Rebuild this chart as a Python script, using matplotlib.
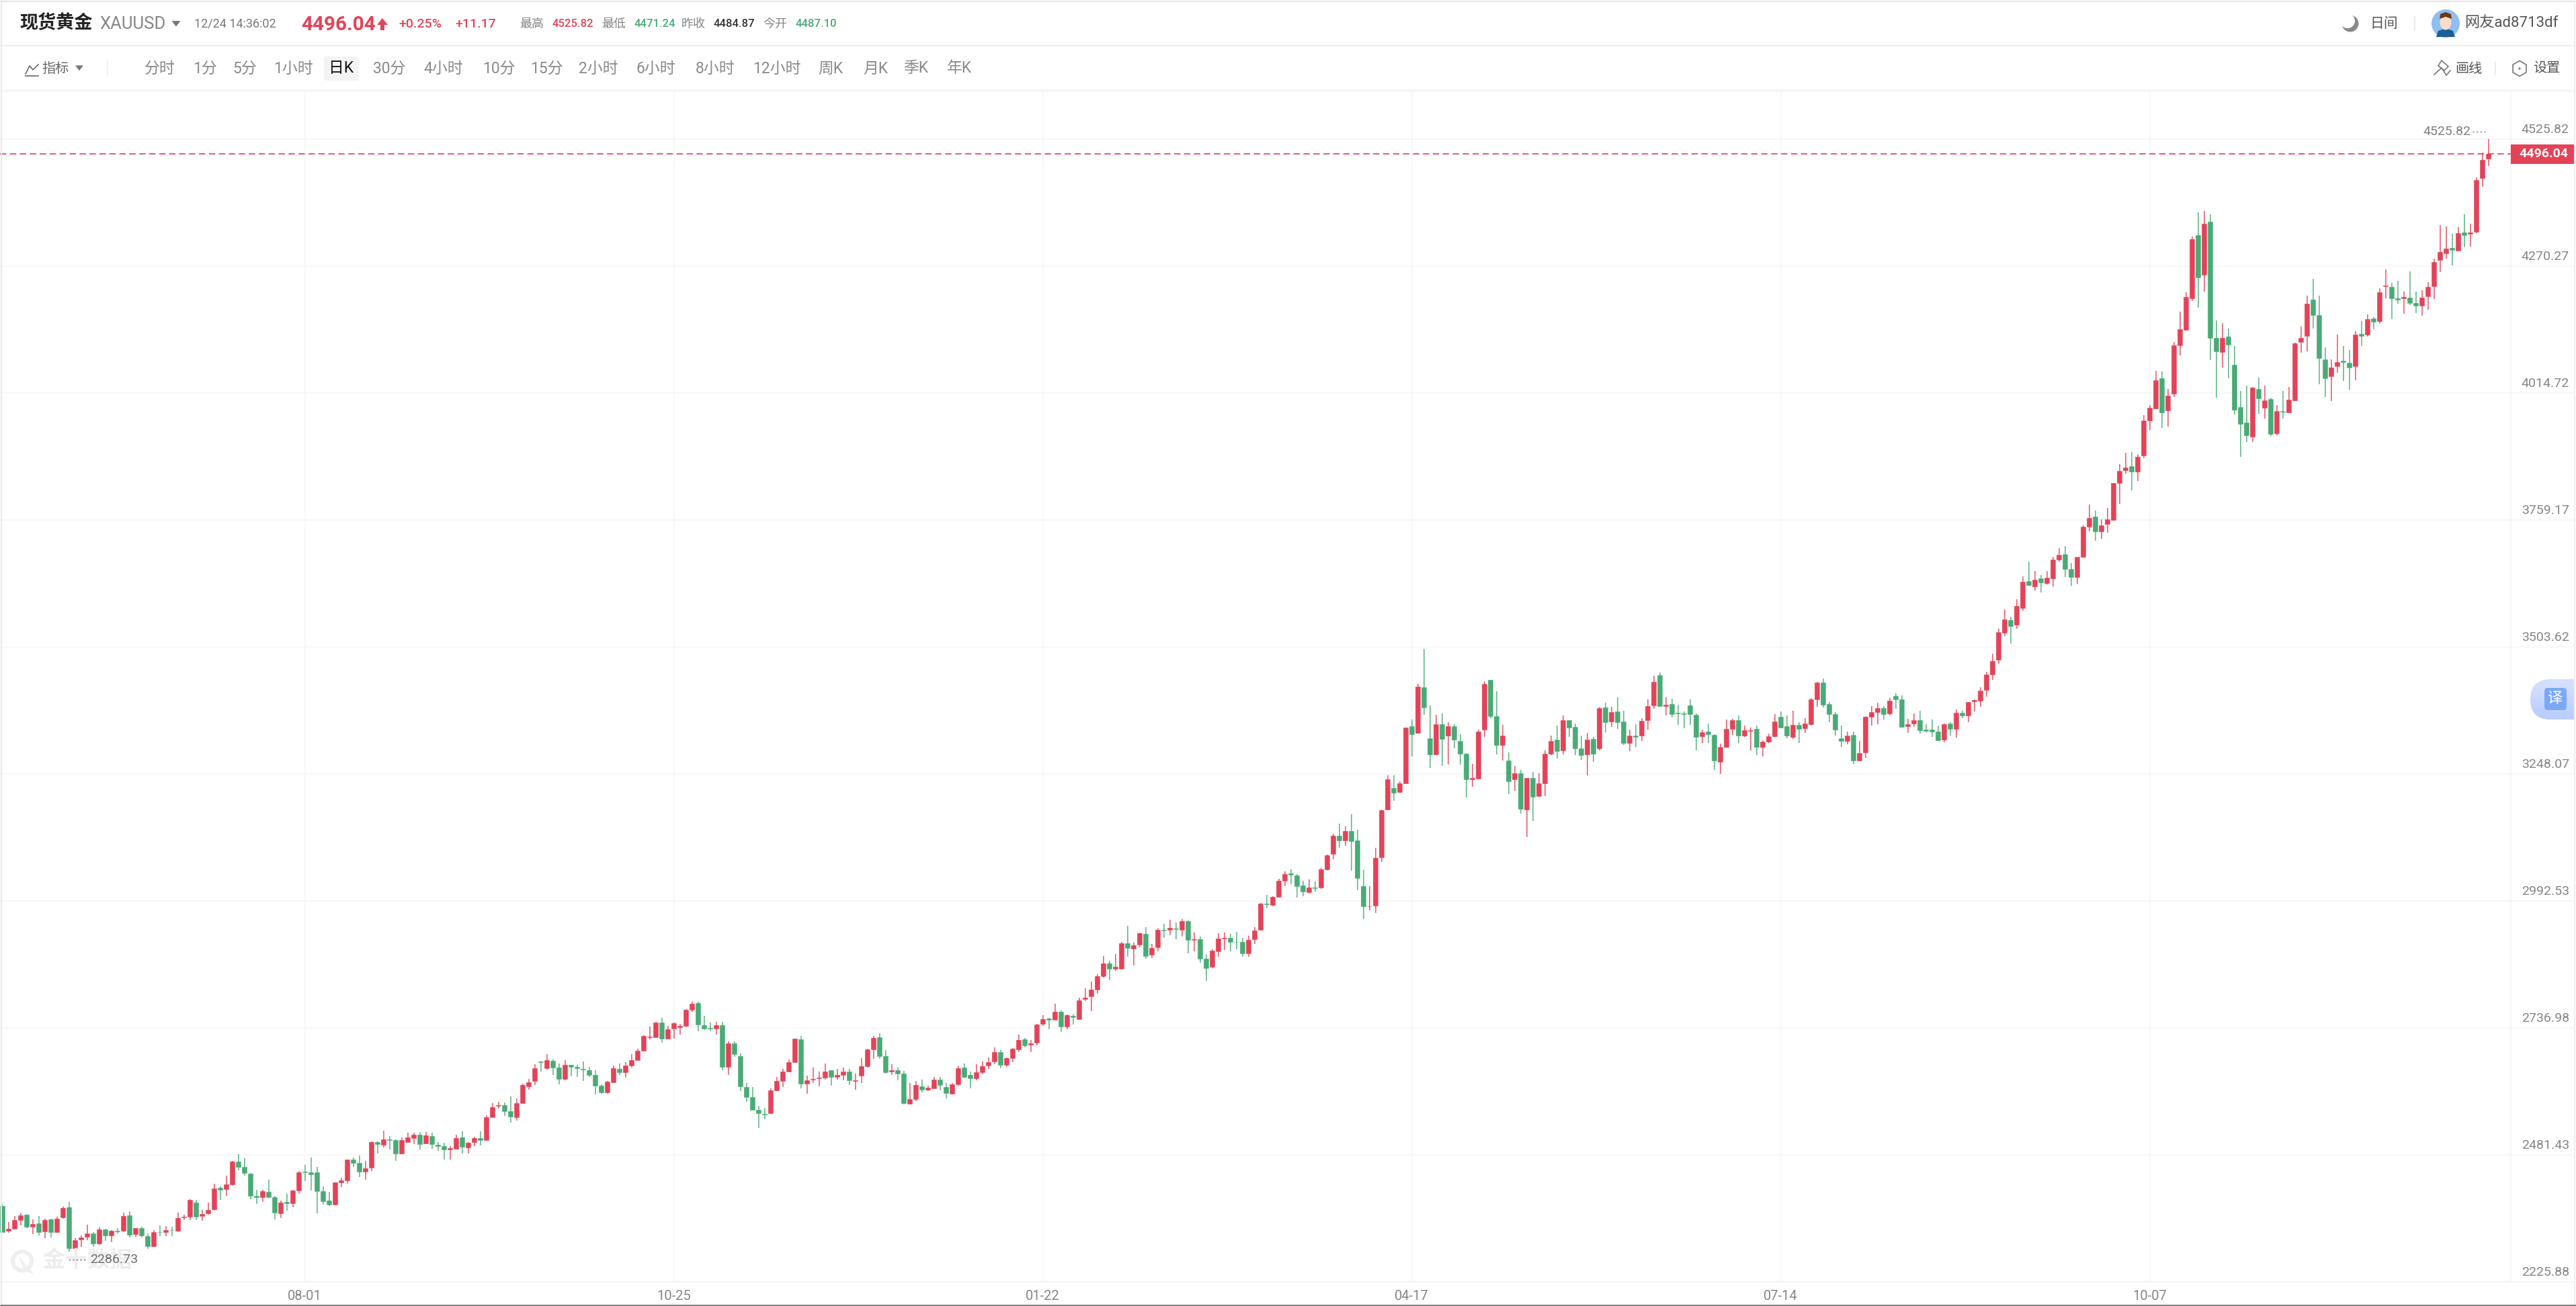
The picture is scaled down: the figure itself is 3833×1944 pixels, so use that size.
import numpy as np
import matplotlib
matplotlib.use("Agg")
import matplotlib.pyplot as plt
from matplotlib.patches import Circle, Ellipse, Polygon, Rectangle, RegularPolygon, FancyBboxPatch
from matplotlib.transforms import ScaledTranslation

plt.rcParams['font.family'] = ['Roboto', 'Noto Sans CJK SC', 'DejaVu Sans']

# CONFIG
W, H = 3833, 1944
RED = '#E34358'
GREEN = '#49AB76'
GRAY = '#858585'

# DATA (XAUUSD daily)
opens = [
    2379,2329,2333,2351,2361,2337,2344,2328,2352,2327,
    2356,2376,2294,2312,2317,2324,2304,2332,2319,2329,
    2329,2360,2322,2334,2318,2298,2327,2327,2331,2329,
    2356,2357,2386,2359,2364,2372,2415,2413,2422,2468,
    2458,2444,2400,2397,2408,2397,2364,2387,2384,2410,
    2448,2446,2447,2409,2390,2382,2427,2430,2472,2465,
    2448,2456,2508,2502,2513,2512,2484,2507,2516,2523,
    2505,2520,2502,2499,2493,2494,2517,2497,2507,2516,
    2512,2558,2580,2582,2569,2558,2586,2620,2630,2670,
    2656,2671,2658,2634,2663,2659,2655,2652,2642,2621,
    2607,2628,2655,2648,2662,2673,2692,2719,2719,2748,
    2715,2736,2739,2741,2774,2787,2743,2737,2736,2743,
    2659,2706,2681,2618,2598,2572,2564,2565,2612,2631,
    2649,2669,2714,2625,2633,2636,2637,2652,2639,2643,
    2649,2630,2641,2660,2694,2718,2681,2650,2652,2646,
    2585,2594,2620,2613,2616,2633,2619,2605,2624,2657,
    2643,2636,2648,2662,2670,2689,2663,2676,2694,2714,
    2703,2707,2745,2756,2754,2770,2740,2762,2755,2795,
    2801,2814,2841,2867,2856,2856,2908,2897,2905,2927,
    2884,2899,2935,2934,2938,2934,2952,2914,2916,2876,
    2860,2892,2917,2918,2911,2911,2888,2916,2934,2988,
    2985,3001,3034,3048,3044,3024,3011,3020,3020,3056,
    3088,3124,3114,3133,3114,3023,2982,2983,3081,3177,
    3220,3212,3230,3344,3331,3423,3320,3288,3349,3325,
    3344,3315,3289,3237,3239,3337,3438,3364,3307,3276,
    3237,3250,3177,3240,3204,3229,3289,3317,3296,3356,
    3343,3300,3287,3319,3299,3382,3354,3374,3354,3311,
    3326,3325,3357,3386,3447,3385,3389,3371,3370,3386,
    3367,3324,3333,3327,3272,3302,3339,3357,3326,3335,
    3339,3302,3313,3324,3363,3344,3322,3347,3340,3349,
    3398,3432,3389,3369,3320,3315,3327,3275,3291,3363,
    3372,3381,3370,3405,3399,3344,3350,3357,3337,3338,
    3334,3317,3350,3339,3371,3366,3394,3395,3417,3449,
    3478,3532,3558,3548,3582,3636,3625,3642,3632,3642,
    3679,3690,3660,3644,3685,3746,3766,3737,3751,3759,
    3833,3859,3868,3856,3889,3960,3984,4044,3980,4013,
    4111,4142,4206,4332,4253,4359,4126,4097,4129,4072,
    3987,3956,3927,4023,3985,4003,3934,3978,3976,4000,
    4117,4130,4203,4172,4082,4049,4069,4080,4075,4069,
    4134,4133,4165,4160,4230,4228,4206,4206,4207,4196,
    4191,4210,4230,4282,4296,4307,4301,4338,4335,4339,
    4448,4487.10,
]
closes = [
    2327,2333,2350,2360,2337,2342,2327,2350,2327,2354,
    2375,2294,2310,2316,2323,2304,2332,2319,2329,2328,
    2359,2321,2334,2319,2298,2327,2326,2331,2330,2355,
    2357,2391,2358,2363,2371,2414,2411,2422,2468,2458,
    2445,2400,2396,2409,2397,2365,2386,2384,2410,2447,
    2447,2442,2409,2389,2382,2426,2430,2472,2465,2448,
    2455,2507,2504,2513,2512,2484,2511,2517,2523,2504,
    2521,2504,2499,2493,2495,2516,2498,2506,2516,2512,
    2558,2578,2582,2569,2559,2586,2622,2628,2656,2668,
    2672,2657,2635,2663,2659,2656,2653,2642,2621,2607,
    2629,2656,2648,2662,2673,2692,2721,2720,2748,2715,
    2735,2747,2741,2774,2786,2744,2736,2736,2743,2659,
    2706,2684,2620,2598,2573,2565,2563,2611,2631,2649,
    2669,2715,2625,2632,2635,2637,2649,2639,2643,2649,
    2632,2632,2660,2694,2717,2681,2648,2652,2646,2586,
    2594,2622,2613,2617,2633,2622,2606,2624,2656,2639,
    2636,2648,2660,2669,2689,2663,2676,2695,2713,2702,
    2706,2744,2755,2754,2770,2740,2763,2759,2793,2798,
    2814,2841,2867,2856,2860,2908,2898,2903,2928,2882,
    2898,2934,2933,2939,2936,2952,2915,2916,2877,2858,
    2893,2917,2919,2911,2910,2888,2915,2933,2988,2986,
    3001,3034,3047,3045,3023,3012,3020,3019,3056,3085,
    3124,3114,3133,3113,3039,2982,2982,3079,3175,3238,
    3210,3229,3342,3328,3424,3382,3288,3349,3319,3344,
    3317,3289,3238,3240,3333,3430,3364,3306,3326,3234,
    3250,3178,3240,3202,3230,3289,3315,3294,3356,3342,
    3300,3286,3317,3289,3381,3353,3373,3353,3311,3325,
    3322,3355,3385,3433,3385,3388,3368,3370,3368,3369,
    3323,3332,3328,3275,3302,3339,3357,3325,3336,3336,
    3302,3313,3324,3354,3342,3326,3347,3339,3350,3398,
    3432,3388,3368,3337,3315,3326,3275,3290,3363,3373,
    3381,3369,3396,3398,3343,3348,3356,3336,3335,3334,
    3316,3348,3339,3371,3366,3393,3397,3416,3448,3476,
    3533,3559,3546,3586,3635,3628,3639,3633,3643,3679,
    3689,3660,3644,3685,3746,3763,3736,3749,3760,3833,
    3858,3865,3856,3886,3960,3985,4041,3976,4010,4111,
    4143,4208,4324,4247,4356,4126,4098,4126,4112,3981,
    3953,3929,4025,4004,4000,3932,3978,3977,4001,4115,
    4126,4194,4172,4085,4045,4066,4077,4077,4066,4133,
    4130,4163,4158,4217,4231,4205,4203,4208,4196,4190,
    4207,4228,4279,4299,4305,4303,4337,4332,4338,4443,
    4484,4496.04,
]
highs = [
    2383,2347,2359,2364,2362,2352,2359,2354,2353,2358,
    2378,2387,2314,2319,2341,2326,2336,2333,2331,2334,
    2365,2368,2335,2337,2323,2331,2340,2339,2337,2365,
    2362,2392,2391,2371,2386,2424,2418,2440,2470,2483,
    2475,2445,2412,2411,2432,2400,2390,2403,2412,2450,
    2462,2477,2458,2418,2407,2427,2436,2473,2476,2480,
    2469,2509,2509,2531,2519,2513,2517,2526,2526,2528,
    2528,2526,2508,2506,2500,2523,2529,2508,2518,2529,
    2561,2586,2589,2587,2600,2595,2625,2634,2664,2670,
    2685,2674,2665,2673,2663,2663,2670,2659,2652,2624,
    2631,2661,2666,2668,2685,2696,2722,2740,2749,2758,
    2742,2748,2745,2775,2790,2790,2761,2748,2749,2749,
    2710,2710,2686,2626,2618,2581,2576,2615,2639,2655,
    2674,2716,2721,2641,2657,2649,2665,2652,2655,2657,
    2655,2645,2677,2695,2721,2726,2693,2664,2658,2651,
    2626,2631,2633,2621,2638,2638,2627,2627,2660,2665,
    2649,2664,2670,2678,2698,2693,2678,2697,2724,2717,
    2713,2745,2763,2758,2786,2772,2764,2765,2798,2817,
    2830,2845,2882,2873,2886,2911,2943,2909,2929,2940,
    2906,2937,2947,2955,2950,2956,2953,2929,2921,2884,
    2895,2928,2929,2927,2930,2918,2922,2940,2989,3005,
    3002,3038,3052,3057,3047,3033,3036,3032,3059,3086,
    3128,3148,3143,3167,3136,3055,3023,3099,3176,3246,
    3246,3233,3342,3358,3430,3500,3386,3367,3370,3352,
    3349,3328,3290,3269,3338,3435,3438,3415,3347,3292,
    3265,3257,3240,3252,3250,3295,3325,3345,3366,3357,
    3350,3326,3331,3323,3382,3391,3384,3403,3375,3338,
    3348,3360,3399,3446,3452,3403,3400,3388,3374,3398,
    3370,3337,3350,3328,3309,3358,3359,3366,3345,3342,
    3345,3316,3329,3368,3374,3366,3376,3352,3361,3401,
    3434,3440,3393,3373,3345,3334,3334,3315,3364,3385,
    3391,3385,3401,3410,3406,3359,3370,3375,3349,3358,
    3345,3350,3352,3378,3376,3393,3399,3423,3454,3490,
    3540,3579,3564,3600,3646,3675,3657,3649,3656,3685,
    3703,3707,3673,3685,3749,3791,3778,3761,3784,3834,
    3872,3895,3896,3892,3970,3991,4059,4058,4023,4117,
    4179,4218,4330,4379,4381,4375,4161,4155,4145,4109,
    4019,4030,4027,4046,4030,4006,3990,4019,4027,4116,
    4149,4211,4245,4211,4107,4082,4132,4110,4101,4139,
    4159,4173,4168,4226,4264,4236,4241,4219,4259,4219,
    4221,4238,4285,4353,4350,4335,4349,4374,4356,4449,
    4499,4525.82,
]
lows = [
    2326,2325,2332,2340,2334,2322,2320,2314,2315,2325,
    2353,2287,2288,2297,2310,2296,2301,2309,2306,2323,
    2327,2316,2317,2315,2293,2296,2318,2318,2318,2327,
    2350,2350,2350,2349,2362,2370,2391,2400,2419,2451,
    2440,2393,2383,2387,2396,2352,2355,2369,2376,2404,
    2429,2410,2364,2382,2379,2381,2417,2423,2458,2437,
    2432,2450,2485,2497,2493,2470,2483,2506,2503,2493,
    2503,2494,2490,2472,2472,2493,2485,2485,2500,2501,
    2511,2557,2575,2560,2547,2551,2585,2613,2622,2649,
    2654,2643,2624,2632,2640,2639,2631,2638,2604,2605,
    2605,2627,2643,2637,2658,2672,2691,2714,2718,2708,
    2714,2716,2724,2739,2770,2730,2733,2730,2724,2652,
    2643,2679,2610,2589,2572,2536,2553,2564,2610,2618,
    2648,2667,2615,2605,2626,2620,2633,2621,2633,2632,
    2623,2613,2627,2658,2675,2675,2646,2643,2632,2583,
    2583,2590,2608,2610,2615,2611,2595,2603,2621,2636,
    2615,2632,2644,2655,2664,2656,2659,2669,2689,2698,
    2689,2702,2741,2735,2753,2729,2734,2744,2754,2791,
    2771,2806,2839,2833,2852,2855,2881,2863,2900,2876,
    2878,2892,2918,2924,2916,2921,2888,2891,2868,2832,
    2858,2881,2894,2891,2896,2880,2880,2906,2933,2978,
    2982,2999,3023,3026,2999,3002,3007,3012,3017,3054,
    3076,3100,3104,3054,3015,2956,2974,2969,3071,3176,
    3194,3210,3230,3284,3329,3367,3260,3287,3265,3267,
    3299,3267,3201,3222,3237,3323,3360,3288,3275,3208,
    3215,3168,3121,3154,3202,3204,3286,3280,3287,3323,
    3286,3277,3245,3272,3295,3332,3343,3339,3307,3294,
    3302,3315,3338,3380,3383,3366,3362,3347,3340,3347,
    3295,3311,3310,3256,3248,3301,3327,3311,3323,3296,
    3286,3283,3310,3322,3341,3320,3319,3310,3331,3345,
    3383,3382,3352,3325,3302,3308,3268,3274,3281,3345,
    3349,3358,3366,3379,3341,3331,3343,3330,3332,3323,
    3315,3312,3325,3321,3360,3352,3374,3384,3404,3437,
    3470,3526,3511,3540,3577,3627,3618,3613,3630,3626,
    3675,3645,3627,3631,3683,3736,3717,3722,3734,3758,
    3792,3853,3819,3838,3884,3940,3983,3945,3947,4007,
    4090,4140,4200,4186,4219,4081,4005,4066,4044,3971,
    3886,3916,3916,3973,3963,3928,3930,3964,3975,3999,
    4096,4098,4145,4032,4007,3998,4055,4039,4022,4040,
    4109,4129,4143,4154,4205,4164,4194,4175,4192,4176,
    4170,4182,4204,4258,4285,4271,4301,4308,4309,4337,
    4430,4471.24,
]
price_ticks = [4525.82, 4270.27, 4014.72, 3759.17, 3503.62, 3248.07, 2992.53, 2736.98, 2481.43, 2225.88]
date_pos = [50, 111, 172, 233, 294, 355]
date_labels = ['08-01', '10-25', '01-22', '04-17', '07-14', '10-07']
last_price = 4496.04
periods = ['分时', '1分', '5分', '1小时', '日K', '30分', '4小时', '10分', '15分', '2小时',
           '6小时', '8小时', '12小时', '周K', '月K', '季K', '年K']
period_x = [215, 287, 346, 407, 489, 555, 630, 718, 789, 861, 947, 1035, 1120, 1217, 1284, 1344, 1409]

opens = np.array(opens)
closes = np.array(closes)
highs = np.array(highs)
lows = np.array(lows)
idx = np.arange(len(opens))
cols = np.where(closes >= opens, RED, GREEN)

fig = plt.figure(figsize=(W / 100, H / 100), dpi=100, facecolor='white')

# ----------------------------
# CANDLE CHART
# ----------------------------
top_px, bot_px, right_px = 137, 1908.3, 3831
ax = fig.add_axes([0, (H - bot_px) / H, right_px / W, (bot_px - top_px) / H])
per_px = (price_ticks[0] - price_ticks[-1]) / (bot_px - 207)
ax.set_ylim(price_ticks[-1], price_ticks[0] + (207 - top_px) * per_px)
ax.set_xlim(-3.5 / 9, (right_px - 3.5) / 9)

for s in ['top', 'left', 'right']:
    ax.spines[s].set_visible(False)
ax.spines['bottom'].set_color('#F2F2F2')
ax.spines['bottom'].set_linewidth(1.1)

ax.set_axisbelow(True)
ax.grid(True, color='#F5F5F5', lw=1.1)
ax.set_yticks(price_ticks)
ax.set_yticklabels([f'{p:.2f}' for p in price_ticks])
ax.set_xticks(date_pos)
ax.set_xticklabels(date_labels)
ax.tick_params(axis='y', left=False, right=False, labelleft=False, labelright=True, pad=-9.4,
               labelsize=14, labelcolor=GRAY)
ax.tick_params(axis='x', bottom=False, pad=5, labelsize=14.5, labelcolor=GRAY)
for tick in ax.yaxis.get_major_ticks():
    tick.label2.set_ha('right')
    tick.label2.set_va('bottom')
    tick.label2.set_transform(tick.label2.get_transform() + ScaledTranslation(0, 5 / 100, fig.dpi_scale_trans))

# price scale separator
ax.axvline((3736 - 3.5) / 9, color='#F2F2F2', lw=1.1, zorder=1)

ax.vlines(idx, lows, highs, colors=cols, lw=1.25, alpha=0.8, zorder=3)
ax.bar(idx, np.abs(closes - opens), bottom=np.minimum(opens, closes), width=0.8, color=cols,
       edgecolor=cols, linewidth=0.4, zorder=4)
ax.axhline(last_price, color=RED, lw=1.3, alpha=0.95, dashes=(5.2, 3), zorder=2)

# ----------------------------
# SCREEN CHROME (pixel coordinates)
# ----------------------------
ui = fig.add_axes([0, 0, 1, 1], facecolor='none')
ui.set_xlim(0, W)
ui.set_ylim(H, 0)
ui.axis('off')


def label(x, y, s, size, color=GRAY, ha='left', weight='normal'):
    ui.text(x, y, s, fontsize=size, color=color, ha=ha, va='center', weight=weight)


def hline(y, color='#EBEBEB', lw=1.4):
    ui.plot([0, W], [y, y], color=color, lw=lw, solid_capstyle='butt')


def vline(x, y0, y1, color='#EBEBEB', lw=1.4):
    ui.plot([x, x], [y0, y1], color=color, lw=lw, solid_capstyle='butt')


def tri(x, y, r, color=GRAY):
    ui.add_patch(Polygon([(x - r, y - r * 0.6), (x + r, y - r * 0.6), (x, y + r * 0.7)], color=color, lw=0))


hline(2, '#E6E6E6', 1.6)
hline(68, '#EDEDED', 1.5)
ui.add_patch(Rectangle((0, 133), W, 4, color='#F6F6F6', lw=0))
vline(2, 0, H, '#E9E9E9', 1.4)
vline(3831, 0, H, '#EFEFEF', 1.4)
hline(1942.5, '#7A7A7A', 2)

# top row
label(29, 35, '现货黄金', 19.5, '#222222', weight='bold')
label(148, 36, 'XAUUSD', 18.5, '#868686')
tri(262, 35, 6.5, '#777777')
label(289, 36, '12/24 14:36:02', 13, '#777777')
label(448, 37, '4496.04', 21.3, RED, weight='bold')
ui.add_patch(Polygon([(569, 27), (577, 37), (572, 37), (572, 45), (566, 45), (566, 37), (561, 37)], color=RED, lw=0))
label(593, 36, '+0.25%', 14, RED, weight='medium')
label(677, 36, '+11.17', 14, RED, weight='medium')
label(773, 36, '最高', 13, GRAY)
label(821, 36, '4525.82', 12, RED, weight='medium')
label(895, 36, '最低', 13, GRAY)
label(943, 36, '4471.24', 12, GREEN, weight='medium')
label(1014, 36, '昨收', 13, GRAY)
label(1062, 36, '4484.87', 12, '#333333', weight='medium')
label(1135, 36, '今开', 13, GRAY)
label(1184, 36, '4487.10', 12, GREEN, weight='medium')

# period row
ui.plot([38, 44, 49, 57], [110, 98, 104, 96], color='#666666', lw=1.2)
ui.plot([38, 57], [113, 113], color='#666666', lw=1.2)
label(62, 102, '指标', 14.5, '#666666')
tri(118, 101, 6, '#777777')
vline(160, 90, 114, '#F2F2F2')
ui.add_patch(FancyBboxPatch((482, 84), 52, 36, boxstyle='round,pad=0,rounding_size=4', color='#F3F3F3', lw=0))
for px_x, name in zip(period_x, periods):
    if name == '日K':
        label(px_x, 102, name, 16.5, '#111111')
    else:
        label(px_x, 102, name, 16.5, '#8A8A8A')

# top right
ui.add_patch(Circle((3497, 35), 12.5, color='#8A8A8A', lw=0))
ui.add_patch(Circle((3493, 31), 11, color='white', lw=0))
label(3526, 35, '日间', 15, '#555555')
vline(3593, 24, 45)
ui.add_patch(Circle((3639, 35), 21, color='#90BEF2', lw=0))
body = Polygon([(3625, 55), (3628, 46), (3639, 42), (3650, 46), (3653, 55)], color='#1C5C98', lw=0)
ui.add_patch(body)
ui.add_patch(Ellipse((3639, 33), 17, 23, color='#FBDCC6', lw=0))
ui.add_patch(Polygon([(3630, 28), (3631, 21), (3639, 18), (3647, 21), (3648, 28), (3639, 25)], color='#6E3A16', lw=0))
label(3667, 35, '网友ad8713df', 16, '#555555')

ui.plot([3622, 3633, 3640, 3646], [111, 101, 112, 105], color='#777777', lw=1.2)
ui.add_patch(Polygon([(3628, 98), (3633, 90), (3643, 99), (3637, 105)], fill=False, edgecolor='#777777', lw=1.2))
label(3653, 102, '画线', 14.5, '#555555')
vline(3712.5, 92, 112)
ui.add_patch(RegularPolygon((3749, 102), 6, radius=11.5, fill=False, edgecolor='#777777', lw=1.2))
ui.add_patch(Circle((3749, 102), 1.6, color='#777777', lw=0))
label(3769, 102, '设置', 14.5, '#555555')

# last price tag
ui.add_patch(Rectangle((3736, 215), 95, 29, color=RED, lw=0))
label(3785, 229, '4496.04', 14, 'white', ha='center', weight='bold')

# high and low markers
label(3605, 196, '4525.82', 14, '#7E7E7E')
ui.plot([3679, 3701], [196, 196], color='#8A8A8A', lw=1, dashes=(2, 2))
ui.add_patch(Circle((33, 1877), 14, fill=False, edgecolor='#EFEFEF', lw=4.5))
ui.add_patch(Polygon([(28, 1870), (50, 1896), (36, 1892)], color='#EFEFEF', lw=0))
ui.text(63, 1877, '金十数据', fontsize=24, color='#EDEDED', weight='bold', va='center', zorder=0)
label(134, 1875, '2286.73', 14, '#6E6E6E')
ui.plot([102, 130], [1875, 1875], color='#777777', lw=1, dashes=(2, 2))

# floating translate button
pill = FancyBboxPatch((3765, 1011), 110, 60, boxstyle='round,pad=0,rounding_size=30', fc='none', ec='none', lw=0)
ui.add_patch(pill)
shade = np.array([[0.0], [1.0]])
grad = ui.imshow(shade, extent=(3765, 3831, 1071, 1011), aspect='auto', interpolation='bicubic',
                 cmap=matplotlib.colors.LinearSegmentedColormap.from_list('pill', ['#D5E0FF', '#BBCEFF']))
grad.set_clip_path(pill)
ui.set_xlim(0, W)
ui.set_ylim(H, 0)
ui.add_patch(FancyBboxPatch((3786, 1024), 33, 33, boxstyle='round,pad=0,rounding_size=5', color='#7AA9F5', lw=0))
label(3802.5, 1040, '译', 16, 'white', ha='center')

fig.savefig('out.png', dpi=100)
